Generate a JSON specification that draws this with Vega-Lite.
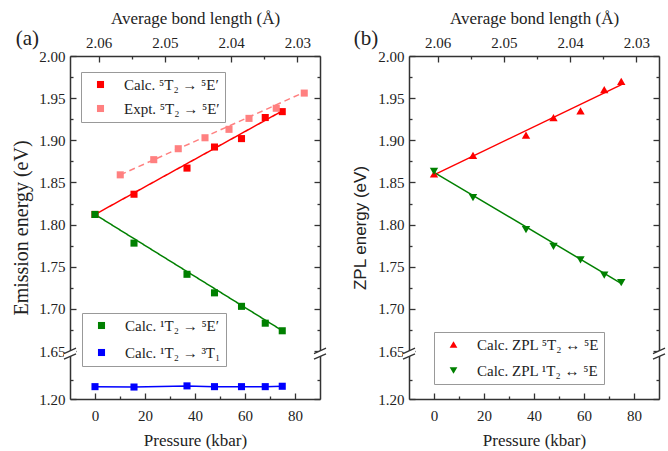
{
  "$schema": "https://vega.github.io/schema/vega-lite/v6.json",
  "padding": {"left": 11, "top": 9, "right": 4, "bottom": 2},
  "spacing": 22,
  "datasets": {
    "a_pts5": [
      {"series": "Calc. ⁵T₂ → ⁵E′", "P": 0, "E": 1.812},
      {"series": "Calc. ⁵T₂ → ⁵E′", "P": 15.6, "E": 1.836},
      {"series": "Calc. ⁵T₂ → ⁵E′", "P": 36.8, "E": 1.867},
      {"series": "Calc. ⁵T₂ → ⁵E′", "P": 47.8, "E": 1.892},
      {"series": "Calc. ⁵T₂ → ⁵E′", "P": 58.6, "E": 1.902},
      {"series": "Calc. ⁵T₂ → ⁵E′", "P": 68.1, "E": 1.927},
      {"series": "Calc. ⁵T₂ → ⁵E′", "P": 74.9, "E": 1.934},
      {"series": "Expt. ⁵T₂ → ⁵E′", "P": 10.1, "E": 1.859},
      {"series": "Expt. ⁵T₂ → ⁵E′", "P": 23.5, "E": 1.877},
      {"series": "Expt. ⁵T₂ → ⁵E′", "P": 33.3, "E": 1.890},
      {"series": "Expt. ⁵T₂ → ⁵E′", "P": 44.0, "E": 1.903},
      {"series": "Expt. ⁵T₂ → ⁵E′", "P": 53.6, "E": 1.913},
      {"series": "Expt. ⁵T₂ → ⁵E′", "P": 61.6, "E": 1.926},
      {"series": "Expt. ⁵T₂ → ⁵E′", "P": 72.5, "E": 1.938},
      {"series": "Expt. ⁵T₂ → ⁵E′", "P": 83.7, "E": 1.956}
    ],
    "a_pts1": [
      {"series": "Calc. ¹T₂ → ⁵E′", "P": 0, "E": 1.812},
      {"series": "Calc. ¹T₂ → ⁵E′", "P": 15.6, "E": 1.778},
      {"series": "Calc. ¹T₂ → ⁵E′", "P": 36.8, "E": 1.741},
      {"series": "Calc. ¹T₂ → ⁵E′", "P": 47.8, "E": 1.719},
      {"series": "Calc. ¹T₂ → ⁵E′", "P": 58.6, "E": 1.703},
      {"series": "Calc. ¹T₂ → ⁵E′", "P": 68.1, "E": 1.683},
      {"series": "Calc. ¹T₂ → ⁵E′", "P": 74.9, "E": 1.674},
      {"series": "Calc. ¹T₂ → ³T₁", "P": 0, "E": 1.232},
      {"series": "Calc. ¹T₂ → ³T₁", "P": 15.6, "E": 1.231},
      {"series": "Calc. ¹T₂ → ³T₁", "P": 36.8, "E": 1.234},
      {"series": "Calc. ¹T₂ → ³T₁", "P": 47.8, "E": 1.232},
      {"series": "Calc. ¹T₂ → ³T₁", "P": 58.6, "E": 1.232},
      {"series": "Calc. ¹T₂ → ³T₁", "P": 68.1, "E": 1.232},
      {"series": "Calc. ¹T₂ → ³T₁", "P": 74.9, "E": 1.233}
    ],
    "a_fit": [
      {"fit": "calc5", "P": 0, "E": 1.812},
      {"fit": "calc5", "P": 75, "E": 1.935},
      {"fit": "expt5", "P": 10.1, "E": 1.859},
      {"fit": "expt5", "P": 83.7, "E": 1.957},
      {"fit": "calc1E", "P": 0, "E": 1.812},
      {"fit": "calc1E", "P": 75, "E": 1.674}
    ],
    "b_pts": [
      {"series": "Calc. ZPL ⁵T₂ ↔ ⁵E", "P": 0, "E": 1.860},
      {"series": "Calc. ZPL ⁵T₂ ↔ ⁵E", "P": 15.6, "E": 1.882},
      {"series": "Calc. ZPL ⁵T₂ ↔ ⁵E", "P": 36.8, "E": 1.906},
      {"series": "Calc. ZPL ⁵T₂ ↔ ⁵E", "P": 47.8, "E": 1.927},
      {"series": "Calc. ZPL ⁵T₂ ↔ ⁵E", "P": 58.6, "E": 1.935},
      {"series": "Calc. ZPL ⁵T₂ ↔ ⁵E", "P": 68.1, "E": 1.960},
      {"series": "Calc. ZPL ⁵T₂ ↔ ⁵E", "P": 74.9, "E": 1.970},
      {"series": "Calc. ZPL ¹T₂ ↔ ⁵E", "P": 0, "E": 1.863},
      {"series": "Calc. ZPL ¹T₂ ↔ ⁵E", "P": 15.6, "E": 1.832},
      {"series": "Calc. ZPL ¹T₂ ↔ ⁵E", "P": 36.8, "E": 1.794},
      {"series": "Calc. ZPL ¹T₂ ↔ ⁵E", "P": 47.8, "E": 1.774},
      {"series": "Calc. ZPL ¹T₂ ↔ ⁵E", "P": 58.6, "E": 1.758},
      {"series": "Calc. ZPL ¹T₂ ↔ ⁵E", "P": 68.1, "E": 1.740},
      {"series": "Calc. ZPL ¹T₂ ↔ ⁵E", "P": 74.9, "E": 1.731}
    ],
    "b_fit": [
      {"fit": "zpl5", "P": 0, "E": 1.859},
      {"fit": "zpl5", "P": 75, "E": 1.966},
      {"fit": "zpl1", "P": 0, "E": 1.862},
      {"fit": "zpl1", "P": 75, "E": 1.730}
    ]
  },
  "hconcat": [
    {
      "width": 250,
      "height": 343,
      "title": {"text": "(a)", "anchor": "start", "frame": "bounds", "font": "Liberation Serif", "fontSize": 21, "fontWeight": "normal", "color": "#222", "offset": -40, "dx": 4},
      "layer": [
        {
          "layer": [
            {
              "data": {"name": "a_fit"},
              "mark": {"type": "line", "strokeWidth": 1.5},
              "encoding": {
                "x": {"field": "P", "type": "quantitative", "scale": {"domain": [-10, 90], "nice": false, "zero": false},
                  "axis": {"orient": "bottom", "values": [0, 20, 40, 60, 80], "tickSize": -6, "labelPadding": 15, "labelFont": "Liberation Serif", "labelFontSize": 15, "title": "Pressure (kbar)", "titleFont": "Liberation Serif", "titleFontSize": 17, "titlePadding": 9}},
                "y": {"field": "E", "type": "quantitative", "scale": {"domain": [1.2, 1.3, 1.65, 2.0], "range": [343, 304.4, 295, 0], "nice": false, "zero": false},
                  "axis": {"orient": "left", "values": [1.2, 1.65, 1.7, 1.75, 1.8, 1.85, 1.9, 1.95, 2.0], "format": ".2f", "tickSize": -6, "labelPadding": 11, "labelFont": "Liberation Serif", "labelFontSize": 15, "title": "Emission energy (eV)", "titleFont": "Liberation Serif", "titleFontSize": 20, "titlePadding": 7}},
                "color": {"field": "fit", "type": "nominal", "scale": {"domain": ["calc5", "expt5", "calc1E"], "range": ["#ff0000", "#ff8080", "#008000"]}, "legend": null},
                "strokeDash": {"field": "fit", "type": "nominal", "scale": {"domain": ["calc5", "expt5", "calc1E"], "range": [[1, 0], [6, 4], [1, 0]]}, "legend": null}
              }
            },
            {
              "data": {"name": "a_pts1"},
              "transform": [{"filter": "datum.series == 'Calc. ¹T₂ → ³T₁'"}],
              "mark": {"type": "line", "color": "#0000ff", "strokeWidth": 1.5},
              "encoding": {
                "x": {"field": "P", "type": "quantitative", "scale": {"domain": [-10, 90], "nice": false, "zero": false}, "axis": null},
                "y": {"field": "E", "type": "quantitative", "scale": {"domain": [1.2, 1.3, 1.65, 2.0], "range": [343, 304.4, 295, 0], "nice": false, "zero": false}, "axis": null}
              }
            },
            {
              "data": {"name": "a_pts5"},
              "mark": {"type": "point", "shape": "square", "filled": true, "opacity": 1, "size": 50},
              "encoding": {
                "x": {"field": "P", "type": "quantitative", "scale": {"domain": [-10, 90], "nice": false, "zero": false}, "axis": null},
                "y": {"field": "E", "type": "quantitative", "scale": {"domain": [1.2, 1.3, 1.65, 2.0], "range": [343, 304.4, 295, 0], "nice": false, "zero": false}, "axis": null},
                "color": {"field": "series", "type": "nominal", "scale": {"domain": ["Calc. ⁵T₂ → ⁵E′", "Expt. ⁵T₂ → ⁵E′"], "range": ["#ff0000", "#ff8080"]},
                  "legend": {"orient": "none", "legendX": 11, "legendY": 16, "title": null, "strokeColor": "#999", "fillColor": "white", "padding": 5, "symbolOffset": 7, "labelOffset": 16, "rowPadding": 8, "labelFont": "Liberation Serif", "labelFontSize": 15, "labelColor": "#222", "symbolSize": 50, "symbolType": "square", "labelLimit": 300}}
              }
            },
            {
              "data": {"name": "a_pts1"},
              "mark": {"type": "point", "shape": "square", "filled": true, "opacity": 1, "size": 50},
              "encoding": {
                "x": {"field": "P", "type": "quantitative", "scale": {"domain": [-10, 90], "nice": false, "zero": false}, "axis": null},
                "y": {"field": "E", "type": "quantitative", "scale": {"domain": [1.2, 1.3, 1.65, 2.0], "range": [343, 304.4, 295, 0], "nice": false, "zero": false}, "axis": null},
                "color": {"field": "series", "type": "nominal", "scale": {"domain": ["Calc. ¹T₂ → ⁵E′", "Calc. ¹T₂ → ³T₁"], "range": ["#008000", "#0000ff"]},
                  "legend": {"orient": "none", "legendX": 12, "legendY": 257, "title": null, "strokeColor": "#999", "fillColor": "white", "padding": 5, "symbolOffset": 7, "labelOffset": 16, "rowPadding": 11, "labelFont": "Liberation Serif", "labelFontSize": 15, "labelColor": "#222", "symbolSize": 50, "symbolType": "square", "labelLimit": 300}}
              }
            },
            {
              "data": {"values": [{}]},
              "mark": {"type": "point", "shape": "M-0.857,-0.014L0.857,-0.786L0.857,0.014L-0.857,0.786Z", "filled": true, "color": "white", "opacity": 1, "size": 196, "strokeWidth": 0},
              "encoding": {
                "x": {"datum": -10, "type": "quantitative", "scale": {"domain": [-10, 90], "nice": false, "zero": false},
                  "axis": {"orient": "bottom", "values": [10, 30, 50, 70], "labels": false, "domain": false, "tickSize": -3, "title": null}},
                "y": {"datum": 1.55, "type": "quantitative", "scale": {"domain": [1.2, 1.3, 1.65, 2.0], "range": [343, 304.4, 295, 0], "nice": false, "zero": false},
                  "axis": {"orient": "left", "values": [1.25, 1.675, 1.725, 1.775, 1.825, 1.875, 1.925, 1.975], "labels": false, "domain": false, "tickSize": -3, "title": null}}
              }
            },
            {
              "data": {"values": [{}]},
              "mark": {"type": "point", "shape": "M-0.857,-0.014L0.857,-0.786L0.857,0.014L-0.857,0.786Z", "filled": true, "color": "white", "opacity": 1, "size": 196, "strokeWidth": 0},
              "encoding": {
                "x": {"datum": 90, "type": "quantitative", "scale": {"domain": [-10, 90], "nice": false, "zero": false}, "axis": null},
                "y": {"datum": 1.55, "type": "quantitative", "scale": {"domain": [1.2, 1.3, 1.65, 2.0], "range": [343, 304.4, 295, 0], "nice": false, "zero": false},
                  "axis": {"orient": "right", "values": [1.25, 1.675, 1.725, 1.775, 1.825, 1.875, 1.925, 1.975], "labels": false, "domain": false, "tickSize": -3, "title": null}}
              }
            },
            {
              "data": {"values": [{}]},
              "mark": {"type": "point", "shape": "M-0.857,-0.014L0.857,-0.786M-0.857,0.786L0.857,0.014", "filled": false, "color": "#333", "opacity": 1, "size": 196, "strokeWidth": 1.3},
              "encoding": {
                "x": {"datum": -10, "type": "quantitative", "scale": {"domain": [-10, 90], "nice": false, "zero": false}, "axis": null},
                "y": {"datum": 1.55, "type": "quantitative", "scale": {"domain": [1.2, 1.3, 1.65, 2.0], "range": [343, 304.4, 295, 0], "nice": false, "zero": false}, "axis": null}
              }
            },
            {
              "data": {"values": [{}]},
              "mark": {"type": "point", "shape": "M-0.857,-0.014L0.857,-0.786M-0.857,0.786L0.857,0.014", "filled": false, "color": "#333", "opacity": 1, "size": 196, "strokeWidth": 1.3},
              "encoding": {
                "x": {"datum": 90, "type": "quantitative", "scale": {"domain": [-10, 90], "nice": false, "zero": false}, "axis": null},
                "y": {"datum": 1.55, "type": "quantitative", "scale": {"domain": [1.2, 1.3, 1.65, 2.0], "range": [343, 304.4, 295, 0], "nice": false, "zero": false},
                  "axis": {"orient": "right", "labels": false, "title": null, "values": [1.2, 1.65, 1.7, 1.75, 1.8, 1.85, 1.9, 1.95, 2.0], "tickSize": -6}}
              }
            }
          ],
          "resolve": {"scale": {"color": "independent", "shape": "independent", "strokeDash": "independent"}, "axis": {"x": "independent", "y": "independent"}}
        },
        {
          "data": {"values": [{}]},
          "mark": {"type": "point", "opacity": 0},
          "encoding": {
            "x": {"datum": 2.06, "type": "quantitative", "scale": {"domain": [2.0643, 2.0266], "nice": false, "zero": false},
              "axis": {"orient": "top", "values": [2.06, 2.05, 2.04, 2.03], "format": ".2f", "tickSize": -6, "labelPadding": 12, "labelFont": "Liberation Serif", "labelFontSize": 15, "title": "Average bond length (Å)", "titleFont": "Liberation Serif", "titleFontSize": 17, "titlePadding": 8}}
          }
        },
        {
          "data": {"values": [{}]},
          "mark": {"type": "point", "opacity": 0},
          "encoding": {
            "x": {"datum": 2.06, "type": "quantitative", "scale": {"domain": [2.0643, 2.0266], "nice": false, "zero": false},
              "axis": {"orient": "top", "values": [2.055, 2.045, 2.035], "labels": false, "domain": false, "tickSize": -3, "title": null}}
          }
        }
      ],
      "resolve": {"scale": {"x": "independent"}}
    },
    {
      "width": 250,
      "height": 343,
      "title": {"text": "(b)", "anchor": "start", "frame": "bounds", "font": "Liberation Serif", "fontSize": 21, "fontWeight": "normal", "color": "#222", "offset": -40, "dx": 2},
      "layer": [
        {
          "layer": [
            {
              "data": {"name": "b_fit"},
              "mark": {"type": "line", "strokeWidth": 1.5},
              "encoding": {
                "x": {"field": "P", "type": "quantitative", "scale": {"domain": [-10, 90], "nice": false, "zero": false},
                  "axis": {"orient": "bottom", "values": [0, 20, 40, 60, 80], "tickSize": -6, "labelPadding": 15, "labelFont": "Liberation Serif", "labelFontSize": 15, "title": "Pressure (kbar)", "titleFont": "Liberation Serif", "titleFontSize": 17, "titlePadding": 9}},
                "y": {"field": "E", "type": "quantitative", "scale": {"domain": [1.2, 1.3, 1.65, 2.0], "range": [343, 304.4, 295, 0], "nice": false, "zero": false},
                  "axis": {"orient": "left", "values": [1.2, 1.65, 1.7, 1.75, 1.8, 1.85, 1.9, 1.95, 2.0], "format": ".2f", "tickSize": -6, "labelPadding": 11, "labelFont": "Liberation Serif", "labelFontSize": 15, "title": "ZPL energy (eV)", "titleFont": "Liberation Sans", "titleFontSize": 17, "titlePadding": 8}},
                "color": {"field": "fit", "type": "nominal", "scale": {"domain": ["zpl5", "zpl1"], "range": ["#ff0000", "#008000"]}, "legend": null}
              }
            },
            {
              "data": {"name": "b_pts"},
              "mark": {"type": "point", "filled": true, "opacity": 1, "size": 70},
              "encoding": {
                "x": {"field": "P", "type": "quantitative", "scale": {"domain": [-10, 90], "nice": false, "zero": false}, "axis": null},
                "y": {"field": "E", "type": "quantitative", "scale": {"domain": [1.2, 1.3, 1.65, 2.0], "range": [343, 304.4, 295, 0], "nice": false, "zero": false}, "axis": null},
                "color": {"field": "series", "type": "nominal", "scale": {"domain": ["Calc. ZPL ⁵T₂ ↔ ⁵E", "Calc. ZPL ¹T₂ ↔ ⁵E"], "range": ["#ff0000", "#008000"]},
                  "legend": {"orient": "none", "legendX": 25, "legendY": 276, "title": null, "strokeColor": "#999", "fillColor": "white", "padding": 5, "symbolOffset": 7, "labelOffset": 16, "rowPadding": 10, "labelFont": "Liberation Serif", "labelFontSize": 15, "labelColor": "#222", "symbolSize": 60, "labelLimit": 300}},
                "shape": {"field": "series", "type": "nominal", "scale": {"domain": ["Calc. ZPL ⁵T₂ ↔ ⁵E", "Calc. ZPL ¹T₂ ↔ ⁵E"], "range": ["triangle-up", "triangle-down"]},
                  "legend": {"orient": "none", "legendX": 25, "legendY": 276, "title": null, "strokeColor": "#999", "fillColor": "white", "padding": 5, "symbolOffset": 7, "labelOffset": 16, "rowPadding": 10, "labelFont": "Liberation Serif", "labelFontSize": 15, "labelColor": "#222", "symbolSize": 60, "labelLimit": 300}}
              }
            },
            {
              "data": {"values": [{}]},
              "mark": {"type": "point", "shape": "M-0.857,-0.014L0.857,-0.786L0.857,0.014L-0.857,0.786Z", "filled": true, "color": "white", "opacity": 1, "size": 196, "strokeWidth": 0},
              "encoding": {
                "x": {"datum": -10, "type": "quantitative", "scale": {"domain": [-10, 90], "nice": false, "zero": false},
                  "axis": {"orient": "bottom", "values": [10, 30, 50, 70], "labels": false, "domain": false, "tickSize": -3, "title": null}},
                "y": {"datum": 1.55, "type": "quantitative", "scale": {"domain": [1.2, 1.3, 1.65, 2.0], "range": [343, 304.4, 295, 0], "nice": false, "zero": false},
                  "axis": {"orient": "left", "values": [1.25, 1.675, 1.725, 1.775, 1.825, 1.875, 1.925, 1.975], "labels": false, "domain": false, "tickSize": -3, "title": null}}
              }
            },
            {
              "data": {"values": [{}]},
              "mark": {"type": "point", "shape": "M-0.857,-0.014L0.857,-0.786L0.857,0.014L-0.857,0.786Z", "filled": true, "color": "white", "opacity": 1, "size": 196, "strokeWidth": 0},
              "encoding": {
                "x": {"datum": 90, "type": "quantitative", "scale": {"domain": [-10, 90], "nice": false, "zero": false}, "axis": null},
                "y": {"datum": 1.55, "type": "quantitative", "scale": {"domain": [1.2, 1.3, 1.65, 2.0], "range": [343, 304.4, 295, 0], "nice": false, "zero": false},
                  "axis": {"orient": "right", "values": [1.25, 1.675, 1.725, 1.775, 1.825, 1.875, 1.925, 1.975], "labels": false, "domain": false, "tickSize": -3, "title": null}}
              }
            },
            {
              "data": {"values": [{}]},
              "mark": {"type": "point", "shape": "M-0.857,-0.014L0.857,-0.786M-0.857,0.786L0.857,0.014", "filled": false, "color": "#333", "opacity": 1, "size": 196, "strokeWidth": 1.3},
              "encoding": {
                "x": {"datum": -10, "type": "quantitative", "scale": {"domain": [-10, 90], "nice": false, "zero": false}, "axis": null},
                "y": {"datum": 1.55, "type": "quantitative", "scale": {"domain": [1.2, 1.3, 1.65, 2.0], "range": [343, 304.4, 295, 0], "nice": false, "zero": false}, "axis": null}
              }
            },
            {
              "data": {"values": [{}]},
              "mark": {"type": "point", "shape": "M-0.857,-0.014L0.857,-0.786M-0.857,0.786L0.857,0.014", "filled": false, "color": "#333", "opacity": 1, "size": 196, "strokeWidth": 1.3},
              "encoding": {
                "x": {"datum": 90, "type": "quantitative", "scale": {"domain": [-10, 90], "nice": false, "zero": false}, "axis": null},
                "y": {"datum": 1.55, "type": "quantitative", "scale": {"domain": [1.2, 1.3, 1.65, 2.0], "range": [343, 304.4, 295, 0], "nice": false, "zero": false},
                  "axis": {"orient": "right", "labels": false, "title": null, "values": [1.2, 1.65, 1.7, 1.75, 1.8, 1.85, 1.9, 1.95, 2.0], "tickSize": -6}}
              }
            }
          ],
          "resolve": {"scale": {"color": "independent", "shape": "independent"}, "axis": {"x": "independent", "y": "independent"}}
        },
        {
          "data": {"values": [{}]},
          "mark": {"type": "point", "opacity": 0},
          "encoding": {
            "x": {"datum": 2.06, "type": "quantitative", "scale": {"domain": [2.0643, 2.0266], "nice": false, "zero": false},
              "axis": {"orient": "top", "values": [2.06, 2.05, 2.04, 2.03], "format": ".2f", "tickSize": -6, "labelPadding": 12, "labelFont": "Liberation Serif", "labelFontSize": 15, "title": "Average bond length (Å)", "titleFont": "Liberation Serif", "titleFontSize": 17, "titlePadding": 8}}
          }
        },
        {
          "data": {"values": [{}]},
          "mark": {"type": "point", "opacity": 0},
          "encoding": {
            "x": {"datum": 2.06, "type": "quantitative", "scale": {"domain": [2.0643, 2.0266], "nice": false, "zero": false},
              "axis": {"orient": "top", "values": [2.055, 2.045, 2.035], "labels": false, "domain": false, "tickSize": -3, "title": null}}
          }
        }
      ],
      "resolve": {"scale": {"x": "independent"}}
    }
  ],
  "config": {
    "font": "Liberation Serif",
    "view": {"stroke": null},
    "axis": {"grid": false, "labelColor": "#222", "labelOverlap": false, "labelFlush": false, "domainColor": "#333", "domainWidth": 1.5, "tickColor": "#333", "tickWidth": 1.3, "titleFontWeight": "normal", "titleColor": "#222"}
  }
}
